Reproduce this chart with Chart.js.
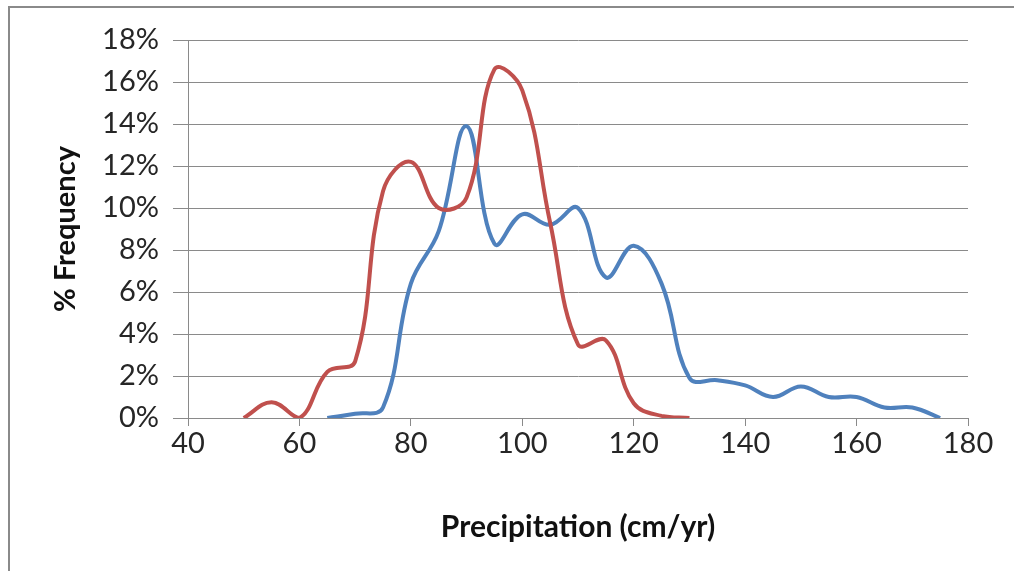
<!DOCTYPE html>
<html>
<head>
<meta charset="utf-8">
<script src="https://cdn.jsdelivr.net/npm/chart.js@4"></script>
<style>
  html, body { margin: 0; padding: 0; background: #fff; }
  #wrap { width: 1014px; height: 571px; position: relative; }
</style>
</head>
<body>
<div id="wrap"><canvas id="myChart" width="1014" height="571"></canvas></div>
<script>
// precipitation (cm/yr) and % frequency
const xRed = [50, 55, 60, 65, 70, 75, 80, 85, 90, 95, 100, 105, 110, 115, 120, 125, 130];
const yRed = [0, 0.75, 0, 2.2, 2.7, 10.8, 12.2, 10.0, 10.5, 16.6, 15.6, 9.3, 3.5, 3.7, 0.7, 0.1, 0];

const xBlue = [65, 70, 75, 80, 85, 90, 95, 100, 105, 110, 115, 120, 125, 130, 135, 140, 145, 150, 155, 160, 165, 170, 175];
const yBlue = [0, 0.2, 0.5, 6.4, 8.9, 13.9, 8.3, 9.7, 9.2, 10.0, 6.7, 8.2, 6.4, 1.9, 1.8, 1.55, 1.0, 1.5, 1.0, 1.0, 0.5, 0.5, 0];

const xTicks = [40, 60, 80, 100, 120, 140, 160, 180];

const fontName = "Lato, 'Open Sans', sans-serif";

const frame = {
  id: 'frame',
  beforeDraw(chart) {
    const c = chart.ctx;
    c.save();
    c.fillStyle = '#fff';
    c.fillRect(0, 0, chart.width, chart.height);
    c.strokeStyle = '#8a8a8a';
    c.lineWidth = 2;
    c.strokeRect(9, 7, chart.width + 20, chart.height + 20);
    c.restore();
  }
};

const ctx = document.getElementById('myChart');
new Chart(ctx, {
  type: 'line',
  data: {
    datasets: [{
      label: 'Red',
      data: xRed.map((x, i) => ({ x: x, y: yRed[i] })),
      borderColor: '#C0504D',
      borderWidth: 4,
      pointRadius: 0,
      tension: 0.4,
      fill: false
    },
    {
      label: 'Blue',
      data: xBlue.map((x, i) => ({ x: x, y: yBlue[i] })),
      borderColor: '#4F81BD',
      borderWidth: 4,
      pointRadius: 0,
      tension: 0.4,
      fill: false
    }]
  },
  options: {
    responsive: false,
    animation: false,
    layout: { padding: { left: 44, top: 40, right: 46, bottom: 22 } },
    plugins: {
      legend: { display: false },
      tooltip: { enabled: false }
    },
    scales: {
      x: {
        type: 'linear',
        min: 40,
        max: 180,
        afterBuildTicks: (axis) => { axis.ticks = xTicks.map(v => ({ value: v })); },
        afterFit: (axis) => { axis.height = 131; },
        grid: { drawOnChartArea: false, drawTicks: true, tickLength: 8, color: '#8a8a8a' },
        border: { display: true, color: '#8a8a8a' },
        ticks: { color: '#262626', font: { family: fontName, size: 29 }, padding: 0, maxRotation: 0 },
        title: { display: true, text: 'Precipitation (cm/yr)', color: '#111', font: { family: fontName, size: 30, weight: 'bold' }, padding: { top: 4, bottom: 4 } }
      },
      y: {
        min: 0,
        max: 18,
        afterFit: (axis) => { axis.width = 144; },
        ticks: { stepSize: 2, color: '#262626', font: { family: fontName, size: 29 }, padding: 14, callback: (v) => v + '%' },
        grid: { color: '#8a8a8a', tickLength: 15 },
        border: { display: true, color: '#8a8a8a' },
        title: { display: true, text: '% Frequency', color: '#111', font: { family: fontName, size: 29, weight: 'bold' }, padding: { top: 4, bottom: 4 } }
      }
    }
  },
  plugins: [frame]
});
</script>
</body>
</html>
